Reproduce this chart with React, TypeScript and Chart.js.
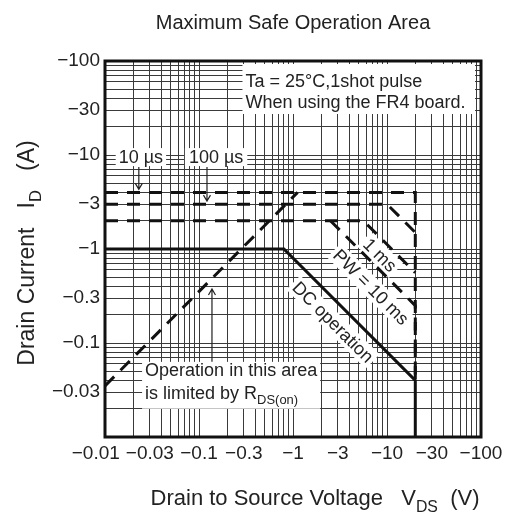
import React, { useEffect, useRef } from "react";
import { Chart, registerables } from "chart.js";

Chart.register(...registerables);

// ---- axes (magnitudes of V_DS [V] and I_D [A]; printed as negative values)
const xRange = [0.01, 100];
const yRange = [0.01, 100];
const xTickLabels = [0.01, 0.03, 0.1, 0.3, 1, 3, 10, 30, 100];
const yTickLabels = [0.03, 0.1, 0.3, 1, 3, 10, 30, 100];
const gridMantissas = [1, 2, 3, 4, 5, 6, 7, 8, 9];
const gridDecades = [-2, -1, 0, 1];

// ---- SOA boundaries
const dcV = [0.01, 0.8, 20, 20];
const dcI = [1, 1, 0.04, 0.01];
const rdsOnV = [0.01, 1.12];
const rdsOnI = [0.035, 4];
const pw10usV = [0.01, 20, 20];
const pw10usI = [4, 4, 0.04];
const pw100usV = [0.01, 10, 20];
const pw100usI = [3, 3, 1.5];
const pw1msV = [0.01, 5.6, 20];
const pw1msI = [2, 2, 0.56];
const pw10msV = [2.5, 20, 20];
const pw10msI = [2, 0.25, 0.04];

// ---- texts
const titleText = "Maximum Safe Operation Area";
const conditionLines = ["Ta = 25°C,1shot pulse", "When using the FR4 board."];
const label10us = "10 µs";
const label100us = "100 µs";
const labelDC = "DC operation";
const label10ms = "PW = 10 ms";
const label1ms = "1 ms";
const rdsNote1 = "Operation in this area";
const rdsNote2 = "is limited by R";
const rdsNote2Sub = "DS(on)";

const FONT = "'Liberation Sans', Arial, Helvetica, sans-serif";

const gridValues = gridDecades
  .flatMap((e) => gridMantissas.map((m) => Number((m * Math.pow(10, e)).toPrecision(6))))
  .concat([xRange[1]]);

const same = (a: number, b: number) => Math.abs(Math.log10(a) - Math.log10(b)) < 1e-6;
const fmt = (v: number) => "\u2212" + String(v);

type Seg = [string, boolean];
function drawRich(ctx: CanvasRenderingContext2D, segs: Seg[], x: number, y: number, size: number, align: "left" | "center") {
  const widths = segs.map(([t, sub]) => {
    ctx.font = `${sub ? size * 0.72 : size}px ${FONT}`;
    return ctx.measureText(t).width;
  });
  const total = widths.reduce((a, b) => a + b, 0);
  let cx = align === "center" ? x - total / 2 : x;
  ctx.textAlign = "left";
  ctx.textBaseline = "alphabetic";
  segs.forEach(([t, sub], i) => {
    ctx.font = `${sub ? size * 0.72 : size}px ${FONT}`;
    ctx.fillText(t, cx, sub ? y + size * 0.3 : y);
    cx += widths[i];
  });
}

function arrow(ctx: CanvasRenderingContext2D, x: number, y0: number, y1: number) {
  ctx.beginPath();
  ctx.moveTo(x, y0);
  ctx.lineTo(x, y1);
  const d = y1 > y0 ? -1 : 1;
  ctx.moveTo(x - 3.5, y1 + d * 6);
  ctx.lineTo(x, y1);
  ctx.lineTo(x + 3.5, y1 + d * 6);
  ctx.stroke();
}

const rotLabels: [string, number, number][] = [
  [labelDC, 2.66, 0.167],
  [label10ms, 6.76, 0.394],
  [label1ms, 8.42, 0.863],
];

const soaPlugin = {
  id: "soaDecor",
  beforeDatasetsDraw(chart: any) {
    const { ctx, chartArea: a, scales } = chart;
    const px = (v: number) => scales.x.getPixelForValue(v);
    const py = (v: number) => scales.y.getPixelForValue(v);
    ctx.save();
    ctx.fillStyle = "#fff";
    // condition box (top right)
    ctx.fillRect(px(0.29), a.top + 3, a.right - 6 - px(0.29), 50);
    // pulse labels
    ctx.font = `18px ${FONT}`;
    const w10 = ctx.measureText(label10us).width;
    const w100 = ctx.measureText(label100us).width;
    ctx.fillRect(px(0.0241) - w10 / 2 - 3, py(9.5) - 9, w10 + 6, 18);
    ctx.fillRect(px(0.152) - w100 / 2 - 4, py(9.5) - 9, w100 + 8, 18);
    // R_DS(on) note box
    const wn = ctx.measureText(rdsNote1).width;
    ctx.fillRect(px(0.0248), py(0.063), wn + 6, py(0.02) - py(0.063));
    // rotated labels
    rotLabels.forEach(([t, vx, vy]) => {
      const w = ctx.measureText(t).width;
      ctx.save();
      ctx.translate(px(vx), py(vy));
      ctx.rotate(Math.PI / 4);
      ctx.fillRect(-w / 2 - 3, -10, w + 6, 20);
      ctx.restore();
    });
    ctx.restore();
  },
  afterDatasetsDraw(chart: any) {
    const { ctx, chartArea: a, scales } = chart;
    const px = (v: number) => scales.x.getPixelForValue(v);
    const py = (v: number) => scales.y.getPixelForValue(v);
    ctx.save();
    ctx.fillStyle = "#222";
    ctx.strokeStyle = "#222";
    ctx.font = `18px ${FONT}`;
    ctx.textBaseline = "middle";
    ctx.textAlign = "left";
    ctx.fillText(conditionLines[0], px(0.29) + 3, a.top + 21);
    ctx.fillText(conditionLines[1], px(0.29) + 3, a.top + 42);
    ctx.textAlign = "center";
    ctx.fillText(label10us, px(0.0241), py(9.5) + 1);
    ctx.fillText(label100us, px(0.152), py(9.5) + 1);
    ctx.lineWidth = 1.2;
    arrow(ctx, px(0.0229), py(9.5) + 10, py(4) - 3);
    arrow(ctx, px(0.1216), py(9.5) + 10, py(3) - 3);
    // R_DS(on) note
    ctx.textAlign = "left";
    ctx.fillText(rdsNote1, px(0.0248) + 3, py(0.063) + 9);
    drawRich(ctx, [[rdsNote2, false], [rdsNote2Sub, true]], px(0.0248) + 3, py(0.063) + 37, 18, "left");
    arrow(ctx, px(0.1374), py(0.063), py(0.375));
    // rotated labels
    ctx.font = `18px ${FONT}`;
    ctx.textAlign = "center";
    ctx.textBaseline = "middle";
    rotLabels.forEach(([t, vx, vy]) => {
      ctx.save();
      ctx.translate(px(vx), py(vy));
      ctx.rotate(Math.PI / 4);
      ctx.fillText(t, 0, 1);
      ctx.restore();
    });
    ctx.restore();
  },
  afterDraw(chart: any) {
    const { ctx, chartArea: a, scales } = chart;
    ctx.save();
    ctx.strokeStyle = "#111";
    ctx.lineWidth = 3;
    ctx.strokeRect(a.left, a.top, a.right - a.left, a.bottom - a.top);
    // x tick labels
    ctx.fillStyle = "#222";
    ctx.font = `19px ${FONT}`;
    ctx.textAlign = "left";
    ctx.textBaseline = "middle";
    const items = xTickLabels.map((v) => {
      const t = fmt(v);
      const w = ctx.measureText(t).width;
      return { t, w, c: scales.x.getPixelForValue(v) };
    });
    items.forEach((it, i) => {
      let left = it.c - it.w / 2;
      const nxt = items[i + 1];
      if (i === 0 && nxt && left + it.w > nxt.c - nxt.w / 2 - 6) left = nxt.c - nxt.w / 2 - 6 - it.w;
      ctx.fillText(it.t, left, a.bottom + 17);
    });
    // titles
    ctx.fillStyle = "#222";
    ctx.font = `20px ${FONT}`;
    ctx.textAlign = "center";
    ctx.textBaseline = "alphabetic";
    ctx.fillText(titleText, (a.left + a.right) / 2, 29);
    drawRich(ctx, [["Drain to Source Voltage   V", false], ["DS", true], ["  (V)", false]], 315, 505, 22, "center");
    ctx.save();
    ctx.translate(34, 253);
    ctx.rotate(-Math.PI / 2);
    drawRich(ctx, [["Drain Current   I", false], ["D", true], ["   (A)", false]], 0, 0, 23, "center");
    ctx.restore();
    ctx.restore();
  },
};

const mk = (xs: number[], ys: number[]) => xs.map((x, i) => ({ x, y: ys[i] }));

export default function App() {
  const ref = useRef<HTMLCanvasElement>(null);
  useEffect(() => {
    if (!ref.current) return;
    const solid = { borderColor: "#111", borderWidth: 3, pointRadius: 0, showLine: true, fill: false, tension: 0 };
    const dashed = { ...solid, borderDash: [13, 9] };
    const grid = { color: "#3a3a3a", lineWidth: 1, drawTicks: false };
    const chart = new Chart(ref.current, {
      type: "scatter",
      data: {
        datasets: [
          { label: "DC operation", data: mk(dcV, dcI), ...solid },
          { label: "RDS(on) limit", data: mk(rdsOnV, rdsOnI), ...dashed },
          { label: "10 us", data: mk(pw10usV, pw10usI), ...dashed },
          { label: "100 us", data: mk(pw100usV, pw100usI), ...dashed },
          { label: "1 ms", data: mk(pw1msV, pw1msI), ...dashed },
          { label: "10 ms", data: mk(pw10msV, pw10msI), ...dashed },
        ] as any,
      },
      options: {
        responsive: false,
        devicePixelRatio: 1,
        animation: false,
        layout: { padding: { top: 61, right: 27, left: 0, bottom: 0 } },
        plugins: { legend: { display: false }, tooltip: { enabled: false }, title: { display: false } },
        scales: {
          x: {
            type: "logarithmic",
            min: xRange[0],
            max: xRange[1],
            grid,
            border: { display: false },
            ticks: { display: false },
            afterBuildTicks: (s: any) => {
              s.ticks = gridValues.map((value) => ({ value }));
            },
            afterFit: (s: any) => {
              s.height = 88;
            },
          },
          y: {
            type: "logarithmic",
            min: yRange[0],
            max: yRange[1],
            grid,
            border: { display: false },
            ticks: {
              autoSkip: false,
              padding: 5,
              color: "#222",
              font: { size: 19, family: FONT },
              callback: (v: any) => {
                const hit = yTickLabels.find((l) => same(l, Number(v)));
                return hit !== undefined ? fmt(hit) : "";
              },
            },
            afterBuildTicks: (s: any) => {
              s.ticks = gridValues.map((value) => ({ value }));
            },
            afterFit: (s: any) => {
              s.width = 105;
            },
          },
        },
      } as any,
      plugins: [soaPlugin],
    });
    return () => chart.destroy();
  }, []);
  return (
    <div style={{ position: "fixed", left: 0, top: 0, width: 508, height: 525, background: "#fff" }}>
      <canvas ref={ref} width={508} height={525} style={{ display: "block" }} />
    </div>
  );
}
